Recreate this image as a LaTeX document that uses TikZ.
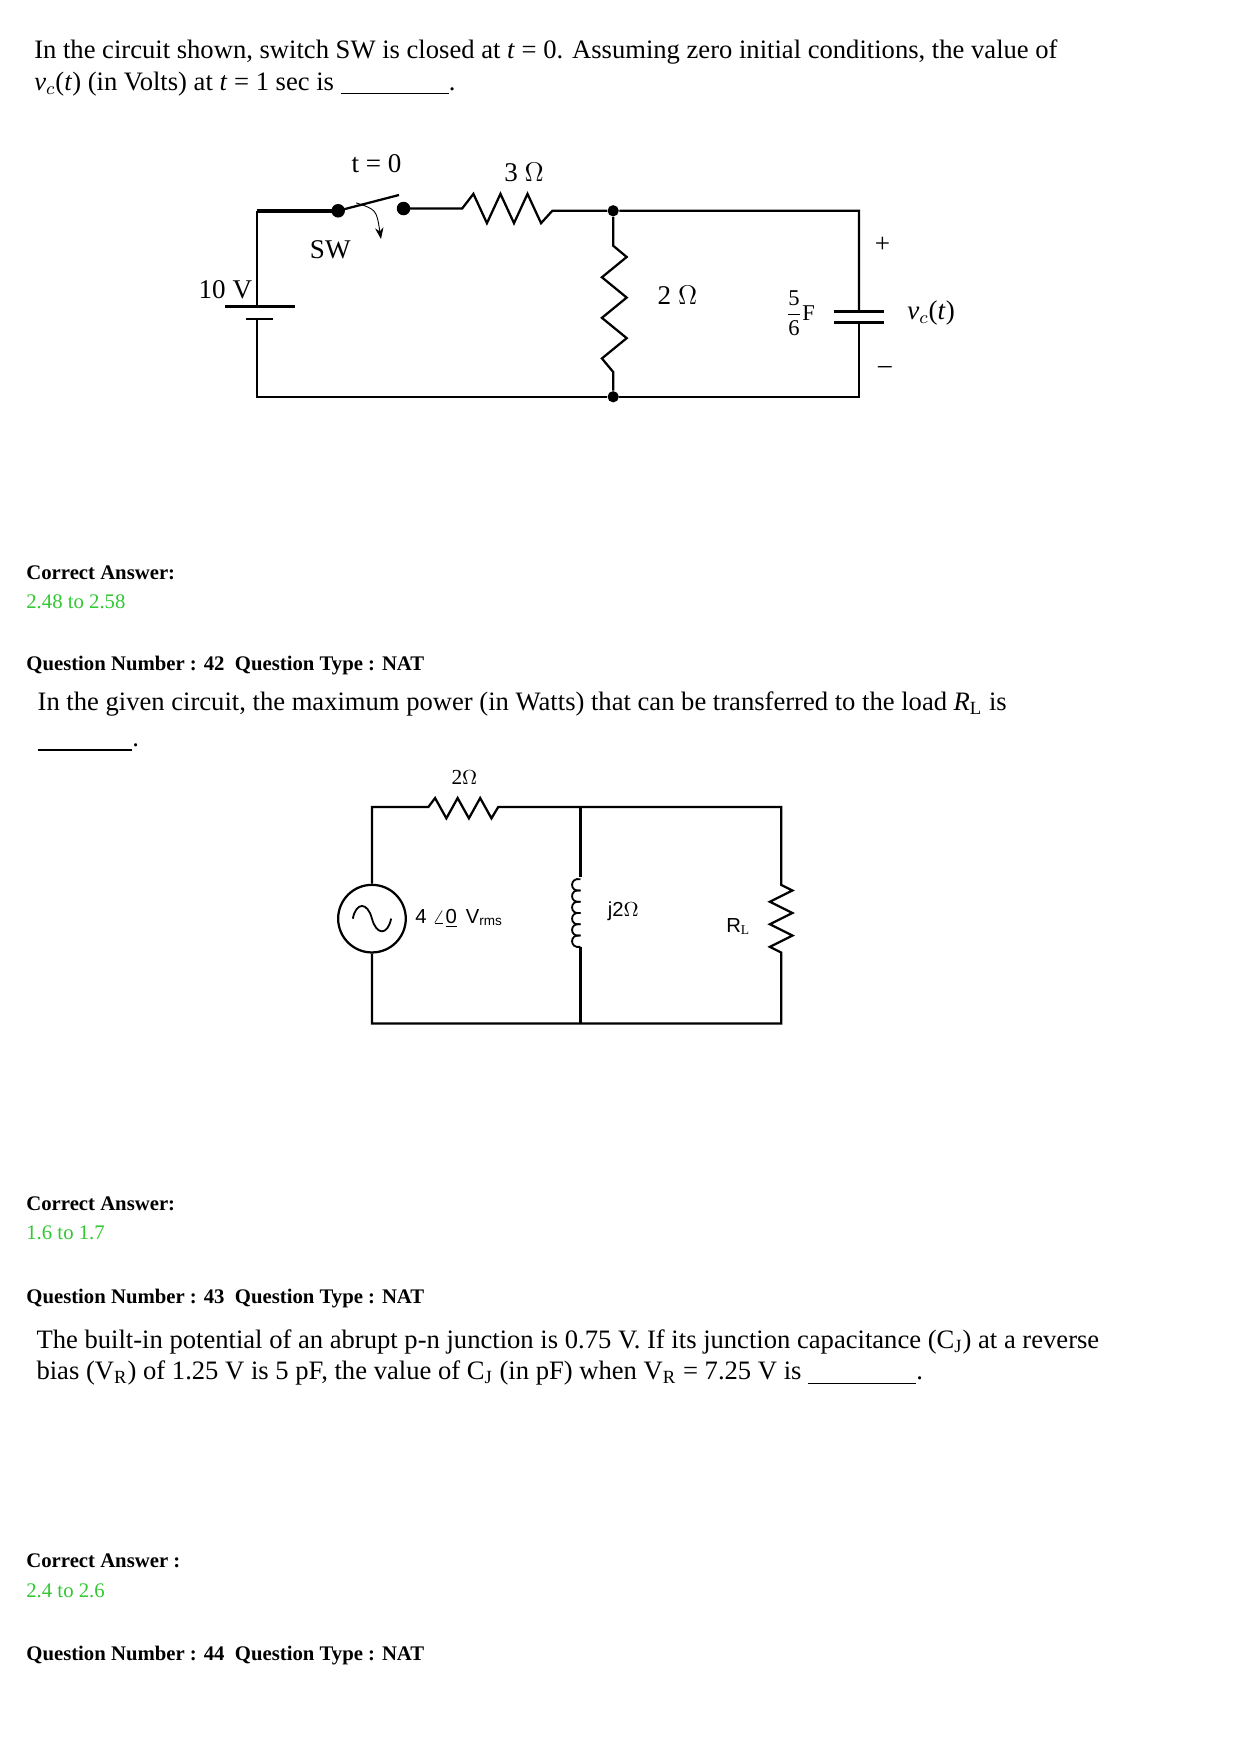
\documentclass[tikz,border=0pt]{standalone}
\usepackage{amsmath}
\usepackage{fontspec}
\setmainfont{Liberation Serif}
\setsansfont{Liberation Sans}
\usepackage{xcolor}
\usetikzlibrary{arrows.meta}
\definecolor{ansgreen}{RGB}{50,200,50}
\tikzset{
  txt/.style={anchor=base west,inner sep=0pt,font=\fontsize{11.8}{13}\selectfont},
  head/.style={anchor=base west,inner sep=0pt,font=\fontsize{9.2}{10}\selectfont\bfseries},
  ans/.style={anchor=base west,inner sep=0pt,font=\fontsize{9.2}{10}\selectfont,text=ansgreen},
  lbl/.style={inner sep=1pt,font=\fontsize{12}{13}\selectfont},
  slbl/.style={inner sep=1pt,font=\sffamily\fontsize{9}{10}\selectfont},
  wire/.style={line width=1pt},
  dot/.style={circle,fill=black,inner sep=0pt,minimum size=5pt},
}
\begin{document}
\begin{tikzpicture}[x=0.5pt,y=-0.5pt]
\useasboundingbox[fill=white] (0,0) rectangle (1100,1557);
% Question 41 text
\node[txt] (q1a) at (30,52) {In the circuit shown, switch SW is closed at \textit{t} = 0. Assuming zero initial conditions, the value of};
\node[txt] (q1b) at (30,80) {\textit{v}$_c$(\textit{t}) (in Volts) at \textit{t} = 1 sec is \underline{\hspace{48pt}}.};
% Circuit 1: corners
\coordinate (tl) at (228,187);
\coordinate (bl) at (228,352);
\coordinate (swa) at (300,187);
\coordinate (swb) at (358,185);
\node[dot] (jt) at (544,187) {};
\node[dot] (jb) at (544,352) {};
\coordinate (tr) at (762,187);
\coordinate (br) at (762,352);
\coordinate (batp) at (228,272);
\coordinate (batn) at (228,283);
\coordinate (capp) at (762,276);
\coordinate (capn) at (762,286);
% battery
\draw[wire] (tl) -- (batp);
\draw[wire] (200,272) -- (262,272);
\draw[wire] (218,283) -- (242,283);
\draw[wire] (batn) -- (bl) -- (jb) -- (br) -- (capn);
\node[lbl,anchor=east] (bat) at (226,257) {10 V};
% switch
\draw[line width=2pt] (tl) -- (swa);
\fill (swa) circle (3pt);
\fill (swb) circle (3pt);
\draw[wire] (swa) -- (354,173);
\draw[-{Stealth[length=5pt]}] (316,180) .. controls (334,186) .. (338,212);
\node[lbl] (t0) at (334,145) {t = 0};
\node[lbl] (sw) at (293,222) {SW};
% 3 ohm
\draw[wire] (swb) -- (410,185) -- (420,172) -- (432,198) -- (444,172) -- (456,198) -- (468,172) -- (480,198) -- (490,187) -- (jt) -- (tr) -- (capp);
\node[lbl] (r3) at (465,153) {3 $\Omega$};
% 2 ohm
\draw[wire] (jt) -- (544,218) -- (556,228) -- (534,246) -- (556,264) -- (534,282) -- (556,300) -- (534,318) -- (544,330) -- (jb);
\node[lbl] (r2) at (601,262) {2 $\Omega$};
% capacitor
\draw[line width=1.3pt] (740,276) -- (784,276);
\draw[line width=1.3pt] (740,286) -- (784,286);
\node[lbl,font=\fontsize{10}{11}\selectfont] (cap) at (710,278) {$\dfrac{\text{5}}{\text{6}}$F};
\node[lbl] (vc) at (826,278) {\textit{v}$_c$(\textit{t})};
\node[lbl] (plus) at (783,217) {+};
\node[lbl] (minus) at (785,328) {--};
% answer 41
\node[head] (ca1) at (23,514) {Correct Answer:};
\node[ans] (a1) at (23,540) {2.48 to 2.58};
% Question 42
\node[head] (qn42) at (23,595) {Question Number : 42\ \ Question Type : NAT};
\node[txt] (q2a) at (33,630) {In the given circuit, the maximum power (in Watts) that can be transferred to the load \textit{R}$_\mathrm{L}$ is};
\node[txt] (q2b) at (33,662) {\underline{\hspace{42pt}}.};
% Circuit 2
\coordinate (tl2) at (330,716);
\coordinate (bl2) at (330,908);
\coordinate (tm2) at (515,716);
\coordinate (bm2) at (515,908);
\coordinate (tr2) at (693,716);
\coordinate (br2) at (693,908);
\node[circle,draw,line width=1pt,minimum size=30pt,inner sep=0pt] (src) at (330,815) {};
\draw[line width=0.8pt] (313,815) .. controls (316,800) and (326,800) .. (330,815) .. controls (334,830) and (344,830) .. (347,815);
\draw[wire] (src.north) -- (tl2) -- (380,716) -- (386,708) -- (396,726) -- (406,708) -- (416,726) -- (426,708) -- (436,726) -- (442,716) -- (tm2) -- (tr2) -- (693,785) -- (703,790) -- (683,800) -- (703,810) -- (683,820) -- (703,830) -- (683,840) -- (693,845) -- (br2) -- (bm2) -- (bl2) -- (src.south);
\node[lbl,font=\fontsize{9.5}{10}\selectfont] (r22) at (412,690) {2$\Omega$};
\node[slbl,anchor=west] (vs) at (366,815) {4 $\angle$\underline{0}\, V$_\text{\fontsize{6}{6}\selectfont rms}$};
% inductor
\draw[wire] (tm2) -- (515,778);
\foreach \i in {0,...,5}
  \draw[line width=0.8pt] (515,780+\i*10) .. controls (505,778+\i*10) and (505,792+\i*10) .. (515,790+\i*10);
\draw[wire] (515,840) -- (bm2);
\node[slbl] (jl) at (553,808) {j2$\Omega$};
\node[slbl] (rl) at (655,822) {R$_\mathrm{L}$};
% answer 42
\node[head] (ca2) at (23,1074) {Correct Answer:};
\node[ans] (a2) at (23,1100) {1.6 to 1.7};
% Question 43
\node[head] (qn43) at (23,1156) {Question Number : 43\ \ Question Type : NAT};
\node[txt] (q3a) at (32,1196) {The built-in potential of an abrupt p-n junction is 0.75 V. If its junction capacitance (C$_\mathrm{J}$) at a reverse};
\node[txt] (q3b) at (32,1224) {bias (V$_\mathrm{R}$) of 1.25 V is 5 pF, the value of C$_\mathrm{J}$ (in pF) when V$_\mathrm{R}$ = 7.25 V is \underline{\hspace{48pt}}.};
% answer 43
\node[head] (ca3) at (23,1391) {Correct Answer :};
\node[ans] (a3) at (23,1417) {2.4 to 2.6};
% Question 44
\node[head] (qn44) at (23,1473) {Question Number : 44\ \ Question Type : NAT};
\end{tikzpicture}
\end{document}
